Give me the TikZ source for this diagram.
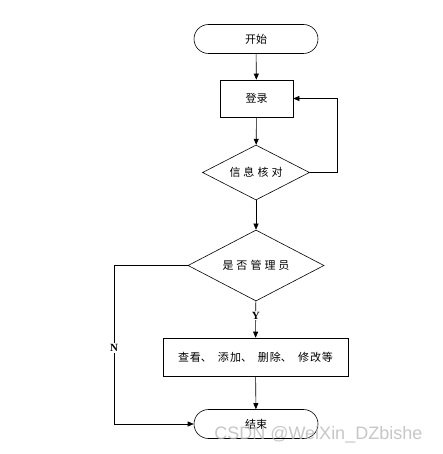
\documentclass[tikz,border=0pt]{standalone}
\usepackage{fontspec}
\setmainfont{Liberation Serif}
\newfontfamily\cjk{Noto Sans CJK SC}
\newfontfamily\wm{Liberation Sans}
\usetikzlibrary{shapes.geometric,shapes.misc,arrows.meta}
\newcommand{\chsp}{\hspace{3pt}}
\begin{document}
\begin{tikzpicture}[x=1pt,y=-1pt,
  every node/.style={font=\cjk\fontsize{11}{13}\selectfont},
  pill/.style={draw,rounded rectangle,minimum width=124pt,minimum height=29pt,inner sep=0pt},
  box/.style={draw,rectangle,inner sep=0pt},
  dia/.style={draw,diamond,aspect=1.9,inner sep=0pt},
  arr/.style={-{Triangle[length=6pt,width=5pt]},line width=0.6pt},
  lab/.style={font=\fontsize{11}{13}\selectfont\bfseries,fill=white,inner sep=1pt}]
\useasboundingbox (0,0) rectangle (442,454);
\fill[white] (0,0) rectangle (442,454);
\tikzset{every path/.style={line width=0.6pt}}
\node[pill] (start) at (256,39) {开始};
\node[box,minimum width=73pt,minimum height=37pt] (login) at (256.5,98.5) {登录};
\node[dia,minimum width=107pt,minimum height=55pt] (check) at (256,172.5) {信\chsp 息\chsp 核\chsp 对};
\node[dia,minimum width=136pt,minimum height=71pt] (admin) at (256,265.5) {是\chsp 否\chsp 管\chsp 理\chsp 员};
\node[box,minimum width=185pt,minimum height=38pt] (ops) at (255.5,357) {查\hspace{1pt}看、\hspace{6pt}添\hspace{1pt}加、\hspace{6pt}删\hspace{1pt}除、\hspace{6pt}修\hspace{1pt}改\hspace{1pt}等};
\node[pill] (end) at (256,424) {结束};
\coordinate (fb) at (337,172.5);
\coordinate (nl) at (114,265.5);
\draw[arr] (start) -- (login);
\draw[arr] (login) -- (check);
\draw[arr] (check.east) -- (fb) |- (login.east);
\draw[arr] (check) -- (admin);
\draw[arr] (admin) -- node[lab,pos=0.4]{Y} (ops);
\draw[arr] (ops) -- (end);
\draw[arr] (admin.west) -- (nl) |- node[lab,pos=0.26]{N} (end.west);
\node[font=\wm\fontsize{18}{20}\selectfont,text=gray!55,opacity=0.8,anchor=west,inner sep=0pt] (wmk) at (214,435) {CSDN @WeiXin\_DZbishe};
\end{tikzpicture}
\end{document}
